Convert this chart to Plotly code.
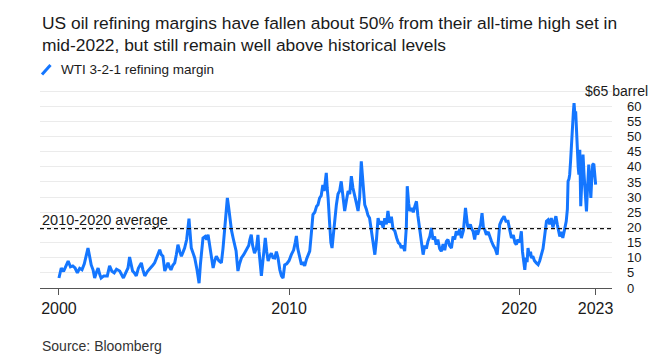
import datetime as dt
import plotly.graph_objects as go

# ---------------- data ----------------
YEARS = [
    2000.00, 2000.10, 2000.20, 2000.30, 2000.40, 2000.50, 2000.60, 2000.70, 2000.80, 2000.90,
    2001.00, 2001.10, 2001.20, 2001.26, 2001.33, 2001.40, 2001.48, 2001.55, 2001.62, 2001.70,
    2001.77, 2001.83, 2001.95, 2002.10, 2002.20, 2002.30, 2002.40, 2002.50, 2002.64, 2002.72,
    2002.80, 2002.90, 2003.00, 2003.07, 2003.13, 2003.20, 2003.28, 2003.36, 2003.45, 2003.58,
    2003.65, 2003.73, 2003.85, 2004.00, 2004.08, 2004.16, 2004.25, 2004.38, 2004.45, 2004.52,
    2004.60, 2004.67, 2004.74, 2004.80, 2004.87, 2004.95, 2005.03, 2005.10, 2005.17, 2005.25,
    2005.32, 2005.40, 2005.46, 2005.55, 2005.65, 2005.70, 2005.75, 2005.83, 2005.90, 2006.00,
    2006.09, 2006.15, 2006.20, 2006.26, 2006.35, 2006.42, 2006.48, 2006.55, 2006.62, 2006.70,
    2006.77, 2006.84, 2006.95, 2007.06, 2007.13, 2007.20, 2007.26, 2007.32, 2007.37, 2007.42,
    2007.50, 2007.57, 2007.63, 2007.70, 2007.75, 2007.78, 2007.85, 2007.93, 2008.03, 2008.14,
    2008.25, 2008.30, 2008.36, 2008.42, 2008.50, 2008.58, 2008.65, 2008.70, 2008.75, 2008.80,
    2008.88, 2008.97, 2009.03, 2009.09, 2009.16, 2009.23, 2009.30, 2009.38, 2009.45, 2009.52,
    2009.60, 2009.67, 2009.74, 2009.81, 2009.90, 2010.00, 2010.10, 2010.20, 2010.27, 2010.32,
    2010.38, 2010.46, 2010.54, 2010.60, 2010.68, 2010.76, 2010.83, 2010.90, 2010.97, 2011.04,
    2011.12, 2011.20, 2011.26, 2011.33, 2011.40, 2011.47, 2011.53, 2011.60, 2011.62, 2011.66,
    2011.70, 2011.76, 2011.82, 2011.87, 2011.93, 2012.00, 2012.06, 2012.13, 2012.20, 2012.27,
    2012.35, 2012.42, 2012.50, 2012.57, 2012.64, 2012.71, 2012.78, 2012.86, 2012.93, 2013.00,
    2013.07, 2013.14, 2013.20, 2013.29, 2013.36, 2013.43, 2013.50, 2013.57, 2013.65, 2013.73,
    2013.80, 2013.87, 2013.94, 2014.02, 2014.09, 2014.16, 2014.23, 2014.30, 2014.37, 2014.45,
    2014.52, 2014.60, 2014.68, 2014.75, 2014.82, 2014.88, 2014.95, 2015.03, 2015.10, 2015.14,
    2015.20, 2015.25, 2015.33, 2015.40, 2015.47, 2015.54, 2015.60, 2015.68, 2015.75, 2015.83,
    2015.90, 2015.97, 2016.04, 2016.12, 2016.19, 2016.26, 2016.33, 2016.40, 2016.47, 2016.55,
    2016.62, 2016.70, 2016.77, 2016.84, 2016.91, 2016.98, 2017.06, 2017.13, 2017.20, 2017.27,
    2017.35, 2017.42, 2017.49, 2017.58, 2017.67, 2017.72, 2017.76, 2017.81, 2017.88, 2017.94,
    2018.00, 2018.07, 2018.13, 2018.20, 2018.27, 2018.33, 2018.39, 2018.45, 2018.52, 2018.58,
    2018.66, 2018.73, 2018.80, 2018.88, 2018.96, 2019.05, 2019.10, 2019.16, 2019.25, 2019.35,
    2019.43, 2019.52, 2019.60, 2019.67, 2019.75, 2019.82, 2019.88, 2019.95, 2020.03, 2020.10,
    2020.15, 2020.20, 2020.25, 2020.30, 2020.35, 2020.39, 2020.45, 2020.50, 2020.54, 2020.60,
    2020.67, 2020.75, 2020.83, 2020.90, 2020.97, 2021.04, 2021.10, 2021.19, 2021.26, 2021.33,
    2021.40, 2021.47, 2021.54, 2021.60, 2021.66, 2021.72, 2021.77, 2021.84, 2021.90, 2021.97,
    2022.05, 2022.10, 2022.13, 2022.17, 2022.20, 2022.24, 2022.27, 2022.32, 2022.36, 2022.39,
    2022.43, 2022.46, 2022.50, 2022.53, 2022.57, 2022.60, 2022.64, 2022.68, 2022.72, 2022.78,
    2022.82, 2022.86, 2022.90, 2022.93, 2022.97, 2023.03, 2023.08, 2023.12, 2023.16, 2023.20,
    2023.25, 2023.29, 2023.33,
]
MARGIN = [
    3.3, 6.6, 5.5, 7.5, 8.9, 7.0, 7.3, 6.6, 5.0, 6.5,
    6.0, 8.0, 11.0, 13.2, 10.5, 7.6, 6.0, 3.3, 5.0, 6.6,
    4.5, 3.3, 4.0, 4.0, 7.3, 5.5, 5.0, 6.2, 5.6, 4.5,
    3.3, 5.0, 6.6, 10.2, 8.0, 5.6, 5.0, 4.0, 6.5, 8.3,
    6.0, 4.0, 5.5, 6.6, 7.5, 8.3, 10.0, 12.6, 11.0, 10.5,
    5.6, 7.0, 8.3, 7.0, 6.0, 7.5, 8.3, 11.0, 14.3, 12.0,
    10.5, 12.0, 13.2, 16.0, 22.9, 18.0, 13.2, 11.5, 9.9, 6.0,
    1.6, 8.0, 13.0, 16.5, 17.0, 16.0, 17.6, 14.3, 10.0, 6.6,
    9.0, 10.5, 9.0, 8.3, 13.0, 19.8, 24.0, 29.7, 27.0, 23.0,
    19.0, 16.5, 14.0, 12.2, 8.0, 5.6, 8.0, 9.9, 11.0, 12.6,
    14.0, 16.0, 17.6, 14.0, 11.5, 13.0, 17.5, 12.0, 7.0, 4.0,
    10.0, 16.5, 12.0, 8.9, 10.5, 11.5, 10.0, 9.9, 12.0, 10.0,
    6.0, 4.0, 3.3, 7.6, 8.0, 9.0, 11.0, 12.5, 15.0, 17.2,
    13.0, 9.9, 7.7, 8.5, 7.3, 9.5, 11.0, 12.2, 18.0, 24.2,
    25.0, 27.0, 27.5, 29.7, 30.5, 34.0, 32.0, 36.0, 38.0, 33.0,
    29.7, 22.0, 15.0, 13.2, 18.0, 23.0, 27.5, 31.0, 32.0, 35.2,
    30.0, 25.4, 29.0, 32.0, 31.0, 36.9, 33.0, 29.7, 28.0, 25.4,
    30.0, 41.8, 35.0, 27.5, 26.0, 24.0, 23.1, 19.0, 15.0, 11.0,
    16.0, 23.1, 21.0, 22.0, 19.8, 23.0, 21.0, 25.4, 21.5, 23.5,
    19.5, 18.8, 16.5, 15.0, 14.5, 13.2, 14.0, 12.2, 20.0, 33.6,
    28.0, 25.4, 26.4, 25.0, 27.0, 28.6, 24.0, 18.8, 15.0, 11.0,
    14.0, 13.0, 15.4, 17.0, 19.8, 16.0, 17.0, 14.3, 16.0, 13.0,
    12.1, 14.5, 12.5, 15.4, 16.0, 14.0, 13.2, 17.0, 16.0, 18.7,
    17.5, 19.5, 16.5, 19.0, 26.4, 22.0, 20.5, 19.8, 21.0, 19.5,
    18.7, 16.0, 19.0, 17.6, 20.0, 21.0, 24.7, 20.0, 19.0, 17.6,
    18.5, 16.5, 15.4, 14.0, 13.0, 11.0, 16.0, 20.9, 22.5, 23.7,
    22.0, 22.0, 19.0, 16.5, 17.5, 15.0, 14.3, 16.0, 15.0, 18.7,
    12.0, 9.0, 6.0, 10.0, 8.5, 13.2, 10.5, 12.0, 9.9, 10.5,
    9.0, 8.3, 7.7, 9.0, 11.0, 13.0, 16.5, 22.0, 22.5, 21.0,
    23.1, 20.0, 22.0, 23.7, 21.0, 19.0, 17.0, 18.5, 16.5, 19.0,
    22.0, 26.0, 35.2, 36.0, 37.4, 42.0, 47.3, 55.0, 58.0, 61.0,
    57.0, 58.3, 50.0, 44.0, 40.0, 37.4, 45.6, 27.0, 35.0, 44.0,
    38.0, 33.0, 30.0, 25.3, 32.0, 40.7, 35.0, 29.7, 36.0, 40.7,
    41.0, 38.0, 34.1,
]
AVERAGE_2010_2020 = 19.6
Y_TICKS = [0, 5, 10, 15, 20, 25, 30, 35, 40, 45, 50, 55, 60, 65]
Y_TICK_TEXT = ["0", "5", "10", "15", "20", "25", "30", "35", "40", "45", "50", "55", "60", ""]
X_TICK_DATES = ["2000-01-01", "2010-01-01", "2020-01-01", "2023-04-30"]
X_TICK_TEXT = ["2000", "2010", "2020", "2023"]

TITLE_1 = "US oil refining margins have fallen about 50% from their all-time high set in"
TITLE_2 = "mid-2022, but still remain well above historical levels"
LEGEND = "WTI 3-2-1 refining margin"
SOURCE = "Source: Bloomberg"


def to_date(t):
    y = int(t)
    return dt.datetime(y, 1, 1) + dt.timedelta(days=(t - y) * 365.25)


dates = [to_date(t) for t in YEARS]

W, H = 661, 357
ML, MR, MT, MB = 32, 57, 80, 77
PW, PH = W - ML - MR, H - MT - MB


def px(xpix):
    return (xpix - ML) / PW


def py(ypix):
    return (H - MB - ypix) / PH


BLUE = "#1476ff"
FONT = "Liberation Sans, Arial, sans-serif"
TXT = "#1a1a1a"

fig = go.Figure()
fig.add_trace(go.Scatter(
    x=dates, y=MARGIN, mode="lines",
    line=dict(color=BLUE, width=3), showlegend=False, hoverinfo="skip",
))

fig.add_hline(y=AVERAGE_2010_2020, line=dict(color="#111111", width=1.4, dash="4px,3px"))

fig.update_layout(
    width=W, height=H,
    margin=dict(l=ML, r=MR, t=MT, b=MB),
    paper_bgcolor="white", plot_bgcolor="white",
    font=dict(family=FONT, color=TXT),
    xaxis=dict(
        type="date",
        range=["1999-03-06", "2024-01-16"],
        tickvals=X_TICK_DATES, ticktext=X_TICK_TEXT,
        showgrid=False, zeroline=False,
        showline=True, linecolor="#555555", linewidth=1.2,
        ticks="outside", ticklen=6, tickcolor="#555555", tickwidth=1,
        tickfont=dict(size=16, color=TXT, family=FONT),
    ),
    yaxis=dict(
        side="right", range=[0, 66],
        tickvals=Y_TICKS, ticktext=Y_TICK_TEXT,
        showgrid=True, gridcolor="#ebebeb", gridwidth=1,
        zeroline=False, showline=False, ticks="",
        ticklabelstandoff=14,
        tickfont=dict(size=13, color=TXT, family=FONT),
    ),
)

annotations = [
    dict(text=TITLE_1, x=px(32), y=py(15), xanchor="left", yanchor="middle",
         font=dict(size=17.4, color=TXT, family=FONT)),
    dict(text=TITLE_2, x=px(32), y=py(37), xanchor="left", yanchor="middle",
         font=dict(size=17.4, color=TXT, family=FONT)),
    dict(text=LEGEND, x=px(51), y=py(62), xanchor="left", yanchor="middle",
         font=dict(size=13.5, color=TXT, family=FONT)),
    dict(text=SOURCE, x=px(32), y=py(338), xanchor="left", yanchor="middle",
         font=dict(size=14, color="#333333", family=FONT)),
    dict(text="$65 barrel", x=px(642), y=py(83), xanchor="right", yanchor="middle",
         font=dict(size=14, color=TXT, family=FONT)),
    dict(text="2010-2020 average", x=px(32), y=py(212), xanchor="left", yanchor="middle",
         font=dict(size=14.5, color=TXT, family=FONT)),
]
for a in annotations:
    a.update(xref="paper", yref="paper", showarrow=False)
fig.update_layout(annotations=annotations)

fig.add_shape(type="line", xref="paper", yref="paper",
              x0=px(34), y0=py(66.5), x1=px(42.5), y1=py(57),
              line=dict(color=BLUE, width=3))

fig.write_html("out.html")
